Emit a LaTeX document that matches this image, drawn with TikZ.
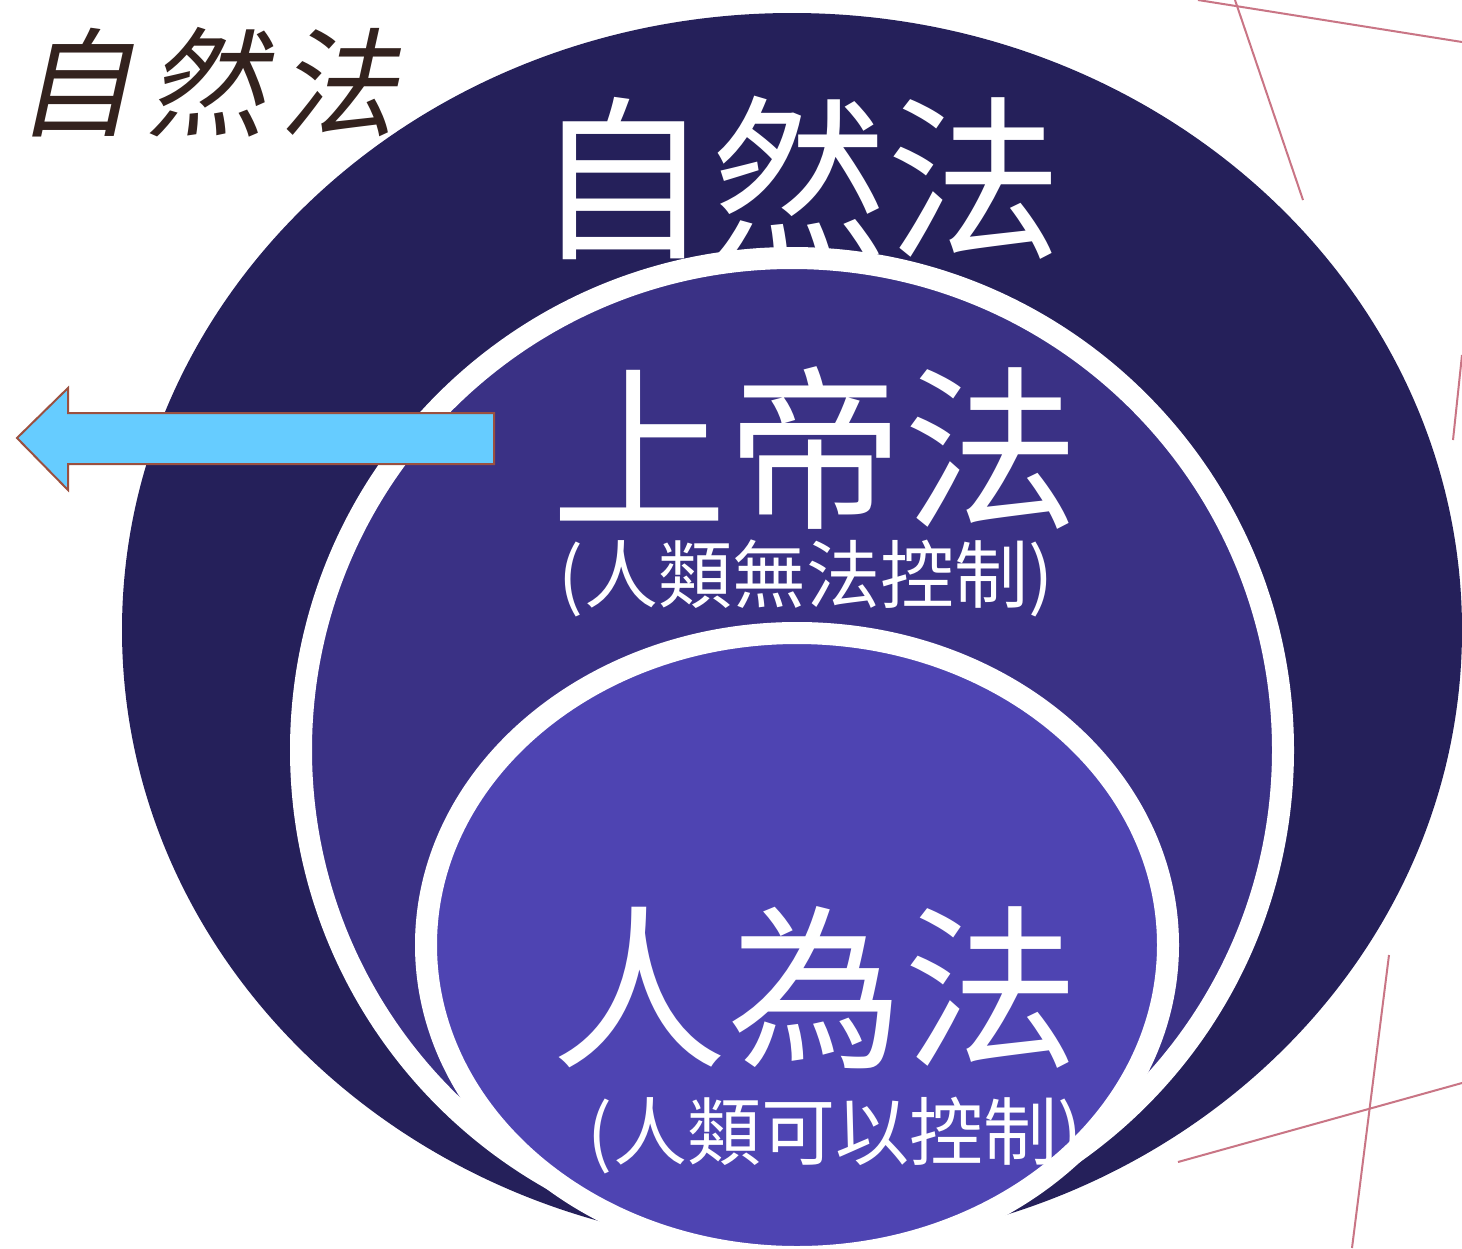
\documentclass[tikz,border=0pt]{standalone}
\usepackage{fontspec}
\newfontfamily\cjk{Noto Sans CJK TC}
\newfontfamily\cjkslant[FakeSlant=0.22]{Noto Sans CJK TC}
\usepackage{tikz}
\definecolor{navyout}{HTML}{25205A}
\definecolor{purplemid}{HTML}{3A3185}
\definecolor{purplein}{HTML}{4E44B2}
\definecolor{arrowfill}{HTML}{66CCFF}
\definecolor{arrowedge}{HTML}{9B5040}
\definecolor{pinkline}{HTML}{C97585}
\definecolor{inkbrown}{HTML}{33221E}
\tikzstyle{ring}=[draw=white, line width=22pt]
\tikzstyle{titel}=[text=white, inner sep=0pt, font=\cjk\fontsize{176}{176}\selectfont]
\tikzstyle{onder}=[text=white, inner sep=0pt, font=\cjk\fontsize{74}{74}\selectfont]
\tikzstyle{deco}=[draw=pinkline, line width=2pt]
\newcommand{\lawlayer}[5]{%
  % filled ellipse with a white rim
  \path[ring, fill=#1] (#2) ellipse [x radius=#3, y radius=#4] node (#5) {};}
\begin{document}
\begin{tikzpicture}[x=1pt,y=-1pt]
  \clip (0,0) rectangle (1462,1248);
  \fill[white] (0,0) rectangle (1462,1248);

  % decoration lines on the right
  \path[deco] (1198,0) -- (1462,42);
  \path[deco] (1235,0) -- (1303,200);
  \path[deco] (1462,355) -- (1453,440);
  \path[deco] (1389,955) -- (1352,1248);
  \path[deco] (1178,1162) -- (1462,1083);

  % nested ellipses
  \fill[navyout] (792,630) ellipse [x radius=670, y radius=617];
  \coordinate (MIDC) at (792,750);
  \coordinate (INC) at (797,945);
  \lawlayer{purplemid}{MIDC}{491}{492}{MIDDLE}
  \lawlayer{purplein}{INC}{371}{312}{INNER}

  % labels
  \node[titel] (NATURE) at (798,178) {自然法};
  \node[titel] (GOD) at (815,448) {上帝法};
  \node[onder] (GODSUB) at (806,578) {(人類無法控制)};
  \node[titel] (HUMAN) at (815,988) {人為法};
  \node[onder] (HUMANSUB) at (835,1136) {(人類可以控制)};

  % heading top left
  \node[text=inkbrown, inner sep=0pt, font=\cjkslant\fontsize{118}{118}\selectfont]
    (HEAD) at (206,82) {自\hspace{14pt}然\hspace{14pt}法};

  % arrow pointing left
  \path[fill=arrowfill, draw=arrowedge, line width=2pt]
    (494,413) -- (68,413) -- (68,388) -- (17,438) -- (68,490) -- (68,464)
    -- (494,464) -- cycle;
\end{tikzpicture}
\end{document}
